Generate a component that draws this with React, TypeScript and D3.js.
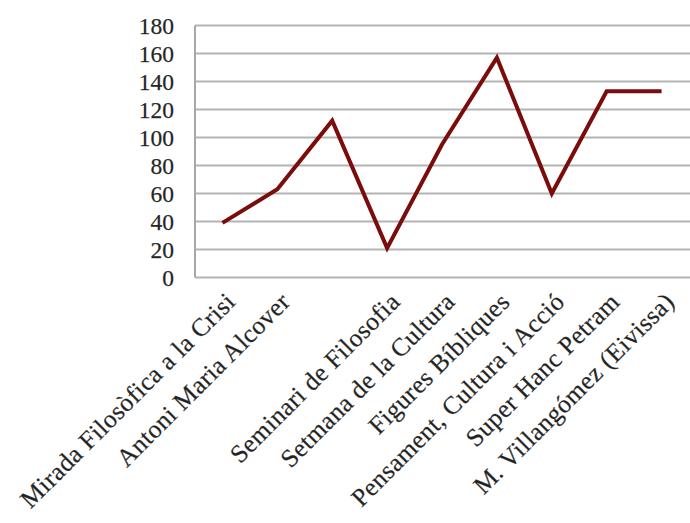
import React from "react";
import * as d3 from "d3";

const categories: string[] = [
  "Mirada Filosòfica a la Crisi",
  "Antoni Maria Alcover",
  "",
  "Seminari de Filosofia",
  "Setmana de la Cultura",
  "Figures Bíbliques",
  "Pensament, Cultura i Acció",
  "Super Hanc Petram",
  "M. Villangómez (Eivissa)",
];
const values: number[] = [39, 63, 112, 21, 95, 157, 60, 133, 133];
const yTicks: number[] = [0, 20, 40, 60, 80, 100, 120, 140, 160, 180];

const W = 690;
const H = 523;
const left = 195;
const right = 689;
const top = 25.5;
const bottom = 277.5;

export default function App() {
  const x = d3
    .scaleBand<number>()
    .domain(categories.map((_, i) => i))
    .range([left, right]);
  const y = d3.scaleLinear().domain([0, 180]).range([bottom, top]);
  const line = d3
    .line<number>()
    .x((_, i) => (x(i) as number) + x.bandwidth() / 2)
    .y((d) => y(d));

  return (
    <svg
      width={W}
      height={H}
      style={{ position: "absolute", left: 0, top: 0, background: "#fff" }}
      fontFamily="'Liberation Serif', 'Times New Roman', serif"
    >
      {yTicks.map((t) => (
        <line
          key={"g" + t}
          x1={left}
          x2={W}
          y1={y(t)}
          y2={y(t)}
          stroke="#b4b4b4"
          strokeWidth={2}
        />
      ))}
      <line x1={left} x2={left} y1={top} y2={bottom} stroke="#a8a8a8" strokeWidth={2} />
      {yTicks.map((t) => (
        <text
          key={"t" + t}
          x={174}
          y={y(t)}
          dy="0.35em"
          textAnchor="end"
          fontSize={23.5}
          fill="#222"
          stroke="#444"
          strokeWidth={0.25}
        >
          {t}
        </text>
      ))}
      <path d={line(values) || ""} fill="none" stroke="#7a0c0c" strokeWidth={4} strokeLinejoin="miter" />
      {categories.map((c, i) => {
        const cx = (x(i) as number) + x.bandwidth() / 2;
        return (
          <text
            key={"c" + i}
            transform={`translate(${cx + 8},${297}) rotate(-45)`}
            textAnchor="end"
            dy="0.35em"
            fontSize={25.5}
            letterSpacing={0.4}
            fill="#222"
            stroke="#444"
            strokeWidth={0.25}
          >
            {c}
          </text>
        );
      })}
    </svg>
  );
}
